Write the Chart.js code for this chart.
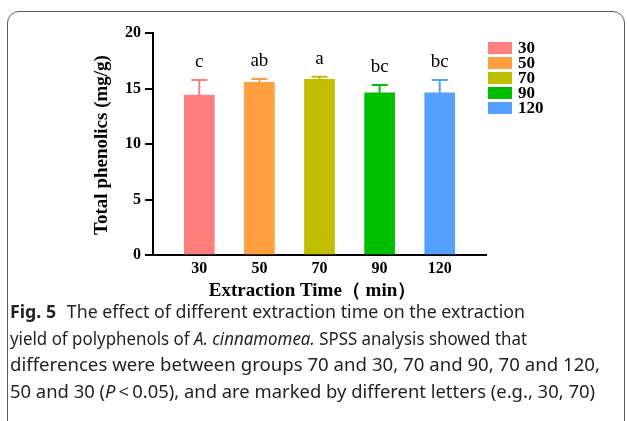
<!DOCTYPE html>
<html>
<head>
<meta charset="utf-8">
<script src="https://cdn.jsdelivr.net/npm/chart.js@4.4.0/dist/chart.umd.min.js"></script>
<style>
  body { margin: 0; background: #fff; width: 627px; height: 421px; overflow: hidden; position: relative; }
  #frame { position: absolute; left: 7px; top: 11px; width: 618px; height: 450px; border: 1.5px solid #5c5c5c; border-radius: 12px; box-sizing: border-box; }
  #chart { position: absolute; left: 0; top: 0; }
  #caption { position: absolute; left: 10px; top: 298px; font-family: "Noto Sans"; font-size: 17.5px; line-height: 26.7px; color: #231f20; white-space: nowrap; }
  #caption div { transform-origin: 0 0; }
  #caption span { display: inline-block; }
  #caption b { font-weight: 700; margin-right: 6px; }
</style>
</head>
<body>
<div id="frame"></div>
<canvas id="chart" width="627" height="310"></canvas>
<div id="caption">
  <div><span><b>Fig. 5</b> The effect of different extraction time on the extraction</span></div>
  <div><span>yield of polyphenols of <i>A. cinnamomea.</i> SPSS analysis showed that</span></div>
  <div><span>differences were between groups 70 and 30, 70 and 90, 70 and 120,</span></div>
  <div><span>50 and 30 (<i>P</i>&thinsp;&lt;&thinsp;0.05), and are marked by different letters (e.g., 30, 70)</span></div>
</div>
<script>
// data
const timeLabels = ['30', '50', '70', '90', '120'];
const phenolMeans = [14.40, 15.56, 15.83, 14.62, 14.62];
const phenolErrors = [1.36, 0.30, 0.23, 0.70, 1.15];
const sigLetters = ['c', 'ab', 'a', 'bc', 'bc'];
const barColors = ['#FF7F7F', '#FF9F40', '#BFBF00', '#00BF00', '#559FFF'];
const yTicks = [0, 5, 10, 15, 20];

const serif = 'Liberation Serif';
const xPad = 0.77; // space between axis ends and outer bars, in category units

// error bars, letters, axis titles and legend
const extrasPlugin = {
    id: 'extras',
    afterDatasetsDraw(chart) {
        const ctx = chart.ctx;
        const xs = chart.scales.x;
        const ys = chart.scales.y;
        const area = chart.chartArea;
        ctx.save();

        phenolMeans.forEach((mean, i) => {
            const x = xs.getPixelForValue(i + 1);
            const yBar = ys.getPixelForValue(mean);
            const yTop = ys.getPixelForValue(mean + phenolErrors[i]);
            ctx.strokeStyle = barColors[i];
            ctx.lineWidth = 2;
            ctx.beginPath();
            ctx.moveTo(x, yBar);
            ctx.lineTo(x, yTop);
            ctx.moveTo(x - 8, yTop);
            ctx.lineTo(x + 8, yTop);
            ctx.stroke();

            ctx.fillStyle = '#000';
            ctx.font = '19px "' + serif + '"';
            ctx.textAlign = 'center';
            ctx.textBaseline = 'middle';
            ctx.fillText(sigLetters[i], x, yTop - 18);
        });

        // y axis title
        ctx.save();
        ctx.translate(102, (area.top + area.bottom) / 2 + 1);
        ctx.rotate(-Math.PI / 2);
        ctx.font = 'bold 19px "' + serif + '"';
        ctx.fillStyle = '#000';
        ctx.textAlign = 'center';
        ctx.textBaseline = 'middle';
        ctx.fillText('Total phenolics (mg/g)', 0, 0);
        ctx.restore();

        // x axis title
        ctx.font = 'bold 19px "' + serif + '"';
        ctx.fillStyle = '#000';
        ctx.textAlign = 'center';
        ctx.textBaseline = 'middle';
        ctx.fillText('Extraction Time\uFF08 min\uFF09', (area.left + area.right) / 2 - 7, area.bottom + 36);

        // legend
        timeLabels.forEach((lab, i) => {
            const cy = 48 + i * 15;
            ctx.fillStyle = barColors[i];
            ctx.fillRect(488, cy - 6, 24, 12);
            ctx.fillStyle = '#000';
            ctx.font = 'bold 17px "' + serif + '"';
            ctx.textAlign = 'left';
            ctx.textBaseline = 'middle';
            ctx.fillText(lab, 518, cy + 1);
        });

        ctx.restore();
    }
};

const ctx = document.getElementById('chart').getContext('2d');
new Chart(ctx, {
    type: 'bar',
    data: {
        datasets: [{
            data: phenolMeans.map((v, i) => ({ x: i + 1, y: v })),
            backgroundColor: barColors,
            borderWidth: 0,
            barThickness: 30
        }]
    },
    options: {
        responsive: false,
        animation: false,
        layout: { padding: { top: 33, right: 141, left: 0, bottom: 0 } },
        plugins: { legend: { display: false }, tooltip: { enabled: false } },
        scales: {
            x: {
                type: 'linear',
                offset: false,
                min: 1 - xPad,
                max: timeLabels.length + xPad,
                afterBuildTicks: axis => { axis.ticks = timeLabels.map((_, i) => ({ value: i + 1 })); },
                afterFit: scale => { scale.height = 55; },
                grid: { display: false, drawTicks: false, tickLength: 0, offset: false },
                border: { color: '#000', width: 2 },
                ticks: {
                    autoSkip: false,
                    maxRotation: 0,
                    padding: 4,
                    color: '#000',
                    font: { family: serif, size: 16, weight: 'bold' },
                    callback: v => timeLabels[v - 1]
                }
            },
            y: {
                min: yTicks[0],
                max: yTicks[yTicks.length - 1],
                afterBuildTicks: axis => { axis.ticks = yTicks.map(v => ({ value: v })); },
                afterFit: scale => { scale.width = 153; },
                grid: { drawOnChartArea: false, drawTicks: true, tickLength: 8, color: '#000', lineWidth: 2 },
                border: { color: '#000', width: 2 },
                ticks: {
                    padding: 4,
                    color: '#000',
                    font: { family: serif, size: 16, weight: 'bold' }
                }
            }
        }
    },
    plugins: [extrasPlugin]
});

// squeeze each caption line to the width of the original typesetting
const lineWidths = [515, 517, 590, 585];
document.querySelectorAll('#caption span').forEach((s, i) => {
    const w = s.getBoundingClientRect().width;
    s.parentNode.style.transform = 'scaleX(' + (lineWidths[i] / w) + ')';
});
</script>
</body>
</html>
